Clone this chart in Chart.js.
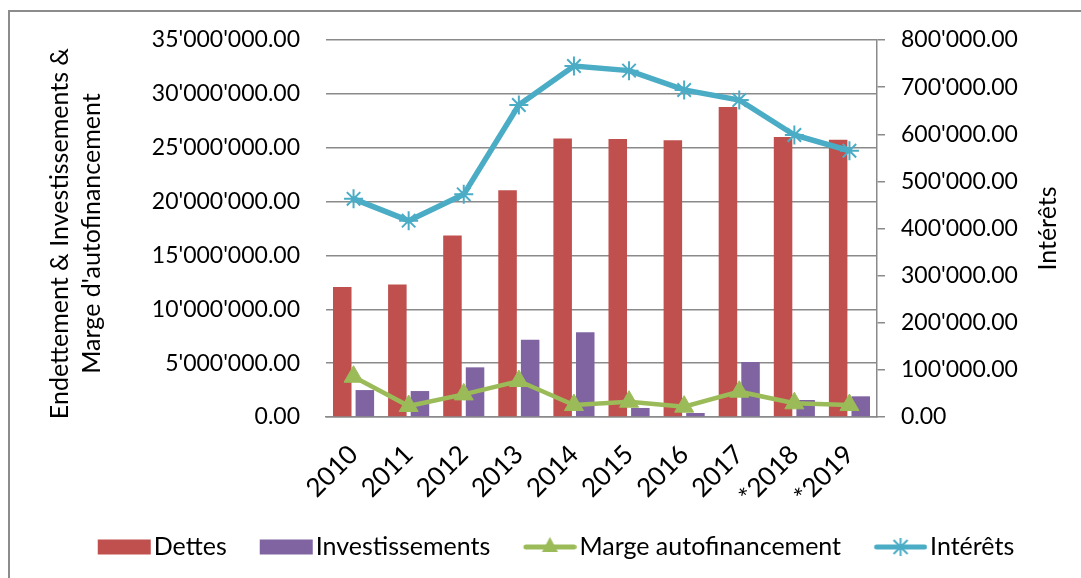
<!DOCTYPE html>
<html>
<head>
<meta charset="utf-8">
<script src="https://cdn.jsdelivr.net/npm/chart.js@4.4.0/dist/chart.umd.min.js"></script>
<style>
  html, body { margin: 0; padding: 0; background: #fff; }
</style>
</head>
<body>
<canvas id="myChart" width="1081" height="578"></canvas>
<script>
// categories and series
var years = ['2010', '2011', '2012', '2013', '2014', '2015', '2016', '2017', '*2018', '*2019'];
var dettes = [12060000, 12310000, 16850000, 21060000, 25850000, 25820000, 25700000, 28790000, 26000000, 25730000];
var investissements = [2500000, 2410000, 4610000, 7180000, 7860000, 840000, 370000, 5100000, 1580000, 1920000];
var marge = [3740000, 1020000, 2100000, 3340000, 1110000, 1420000, 960000, 2350000, 1270000, 1110000];
var interets = [462900, 416600, 472500, 662000, 744800, 735000, 694000, 672700, 598400, 565000];

// axis ranges
var leftAxis = [0, 35000000, 5000000];   // min, max, step
var rightAxis = [0, 800000, 100000];

var seriesNames = ['Dettes', 'Investissements', 'Marge autofinancement', 'Intérêts'];
var leftTitle = ['Endettement & Investissements &', "Marge d'autofinancement"];
var rightTitle = 'Intérêts';

var RED = '#C0504D', PURPLE = '#8064A2', GREEN = '#9BBB59', BLUE = '#4BACC6';
var GRID = '#8a8a8a';
var FONT = 'Lato';
var FS = 23;   // tick labels
var FL = 25;   // legend and axis titles

function fmt(v) {
  var s = Math.round(v).toString();
  s = s.replace(/\B(?=(\d{3})+(?!\d))/g, "'");
  return s + '.00';
}

// little legend pictures (box / line with marker)
function makeIcon(kind, color) {
  var c = document.createElement('canvas');
  c.width = 86;
  c.height = 24;
  var g = c.getContext('2d');
  var a = 32.75, w = 53, cy = 12;
  if (kind == 'bar') {
    g.fillStyle = color;
    g.fillRect(a, cy - 7.5, w, 15);
    return c;
  }
  g.strokeStyle = color;
  g.lineWidth = 5;
  g.lineCap = 'round';
  g.beginPath();
  g.moveTo(a + 2.5, cy);
  g.lineTo(a + w - 2.5, cy);
  g.stroke();
  var mx = a + w / 2;
  if (kind == 'tri') {
    g.fillStyle = color;
    g.beginPath();
    g.moveTo(mx, cy - 10);
    g.lineTo(mx + 8, cy + 5);
    g.lineTo(mx - 8, cy + 5);
    g.closePath();
    g.fill();
  } else {
    g.lineWidth = 2;
    g.lineCap = 'butt';
    g.beginPath();
    g.moveTo(mx, cy - 9); g.lineTo(mx, cy + 9);
    g.moveTo(mx - 7, cy - 7); g.lineTo(mx + 7, cy + 7);
    g.moveTo(mx + 7, cy - 7); g.lineTo(mx - 7, cy + 7);
    g.stroke();
  }
  return c;
}
var icons = [makeIcon('bar', RED), makeIcon('bar', PURPLE), makeIcon('tri', GREEN), makeIcon('star', BLUE)];

function vText(ctx, txt, x, y) {
  ctx.save();
  ctx.translate(x, y);
  ctx.rotate(-Math.PI / 2);
  ctx.fillText(txt, 0, 0);
  ctx.restore();
}

var extras = {
  id: 'extras',
  beforeDraw: function(chart) {
    var ctx = chart.ctx;
    ctx.save();
    ctx.strokeStyle = '#8c8c8c';
    ctx.lineWidth = 2;
    ctx.beginPath();
    ctx.moveTo(9, 578);
    ctx.lineTo(9, 11);
    ctx.lineTo(1081, 11);
    ctx.stroke();
    ctx.restore();
  },
  afterDraw: function(chart) {
    var ctx = chart.ctx;
    var a = chart.chartArea;
    var my = (a.top + a.bottom) / 2;
    ctx.save();
    ctx.font = FL + 'px ' + FONT;
    ctx.fillStyle = '#000';
    ctx.textAlign = 'center';
    ctx.textBaseline = 'middle';
    vText(ctx, leftTitle[0], 60, my + 5);
    vText(ctx, leftTitle[1], 92, my + 5);
    vText(ctx, rightTitle, chart.scales.y1.right - 33, my);
    ctx.restore();
  }
};

Chart.defaults.font.family = FONT;
Chart.defaults.font.size = FS;
Chart.defaults.color = '#000';

var ctx = document.getElementById('myChart');
var myChart = new Chart(ctx, {
  type: 'bar',
  data: {
    labels: years,
    datasets: [
      {
        label: seriesNames[0],
        data: dettes,
        backgroundColor: RED,
        yAxisID: 'y',
        order: 2,
        categoryPercentage: 0.82,
        barPercentage: 0.82
      },
      {
        label: seriesNames[1],
        data: investissements,
        backgroundColor: PURPLE,
        yAxisID: 'y',
        order: 2,
        categoryPercentage: 0.82,
        barPercentage: 0.82
      },
      {
        type: 'line',
        label: seriesNames[2],
        data: marge,
        borderColor: GREEN,
        backgroundColor: GREEN,
        borderWidth: 4.5,
        pointStyle: 'triangle',
        pointRadius: 11,
        pointBackgroundColor: GREEN,
        pointBorderColor: GREEN,
        pointBorderWidth: 1,
        tension: 0,
        yAxisID: 'y',
        order: 1
      },
      {
        type: 'line',
        label: seriesNames[3],
        data: interets,
        borderColor: BLUE,
        backgroundColor: BLUE,
        borderWidth: 5.5,
        pointStyle: 'star',
        pointRadius: 9.5,
        pointBorderColor: BLUE,
        pointBorderWidth: 2,
        tension: 0,
        yAxisID: 'y1',
        order: 0
      }
    ]
  },
  options: {
    responsive: false,
    devicePixelRatio: 1,
    animation: false,
    layout: { padding: { left: 8, top: 40, right: 0, bottom: 8.5 } },
    plugins: {
      tooltip: { enabled: false },
      legend: {
        position: 'bottom',
        labels: {
          usePointStyle: true,
          pointStyleWidth: 66.5,
          padding: 10,
          font: { size: FL },
          generateLabels: function(chart) {
            return chart.data.datasets.map(function(ds, i) {
              return { text: ds.label, pointStyle: icons[i], datasetIndex: i, hidden: false, lineWidth: 0 };
            });
          }
        }
      }
    },
    scales: {
      x: {
        offset: true,
        grid: { display: false },
        border: { display: true, color: GRID, width: 1.5 },
        ticks: { minRotation: 45, maxRotation: 45, autoSkip: false, padding: 14, font: { size: 26 } },
        afterFit: function(s) { s.height = 107.5; }
      },
      y: {
        position: 'left',
        min: leftAxis[0],
        max: leftAxis[1],
        ticks: { stepSize: leftAxis[2], padding: 26, callback: function(v) { return fmt(v); } },
        grid: { color: GRID, lineWidth: 1.5, drawTicks: false },
        border: { display: false },
        afterFit: function(s) { s.width = 318; }
      },
      y1: {
        position: 'right',
        min: rightAxis[0],
        max: rightAxis[1],
        ticks: { stepSize: rightAxis[2], padding: 16, callback: function(v) { return fmt(v); } },
        grid: { drawOnChartArea: false, drawTicks: true, tickLength: 8, color: GRID, lineWidth: 1.5 },
        border: { display: true, color: GRID, width: 1.5 },
        afterFit: function(s) { s.width = 204; }
      }
    }
  },
  plugins: [extras]
});
</script>
</body>
</html>
